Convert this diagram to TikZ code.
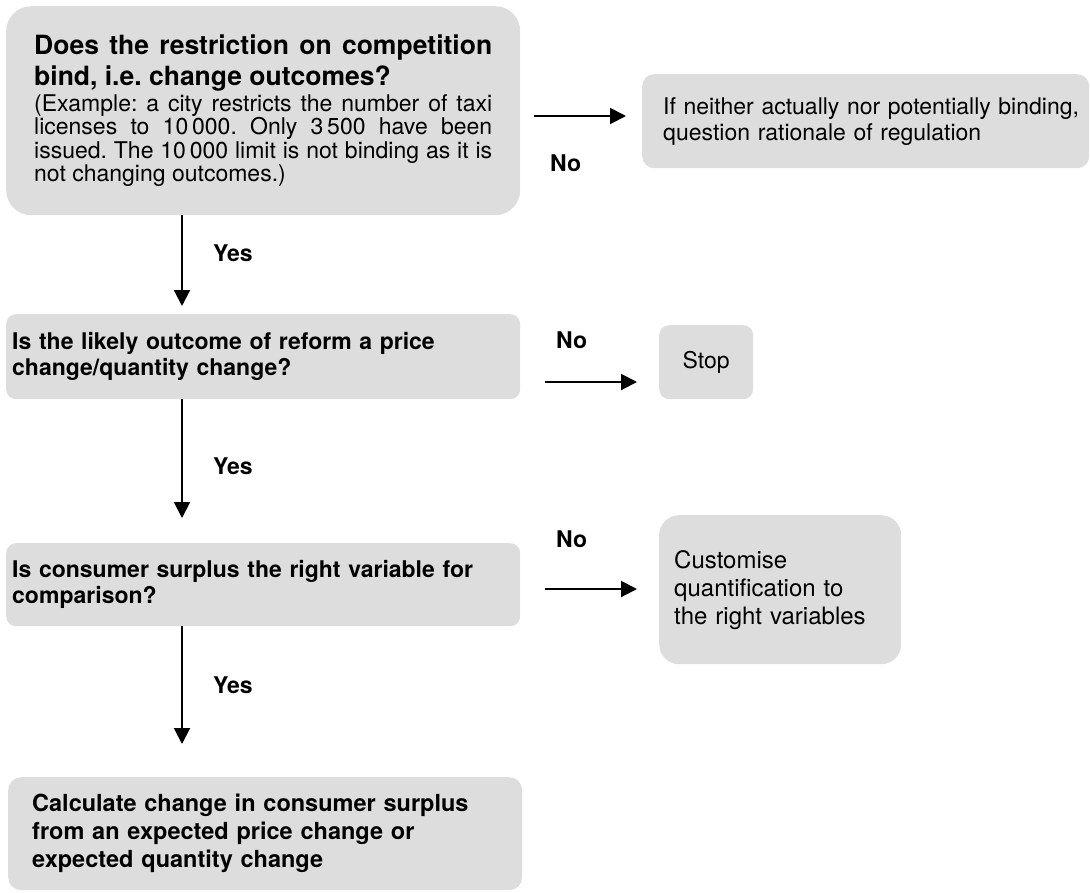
\documentclass[tikz,border=0pt]{standalone}
\usepackage{fontspec}
\setmainfont{TeX Gyre Heros}
\usetikzlibrary{arrows.meta}
\definecolor{boxgray}{RGB}{221,221,221}
\begin{document}
\frenchspacing
\begin{tikzpicture}[x=1pt,y=-1pt,
  box/.style={fill=boxgray, draw=none, inner xsep=0pt, inner ysep=0pt, anchor=north west, align=left},
  arr/.style={line width=2pt, -{Triangle[length=16pt,width=16pt]}},
  lab/.style={font=\fontsize{23}{26}\selectfont\bfseries, anchor=west, inner sep=0pt}]
\useasboundingbox (0,0) rectangle (1090,892);

% boxes
\node[box, rounded corners=25pt, text width=514pt, minimum height=209pt, align=justify] (b1) at (6,6)
  {\leftskip=28pt\rightskip=28pt
   {\fontsize{26.5}{31}\selectfont\bfseries Does the restriction on competition\linebreak bind, i.e. change outcomes?\par}
   \vspace{2pt}
   {\fontsize{23}{23.5}\selectfont (Example: a city restricts the number of taxi\linebreak licenses to 10\,000. Only 3\,500 have been\linebreak issued. The 10\,000 limit is not binding as it is\linebreak not changing outcomes.)\par}
   \vspace{6pt}};

\node[box, rounded corners=12pt, text width=447pt, minimum height=94pt, font=\fontsize{23}{26}\selectfont] (b2) at (642,74)
  {\leftskip=21pt If neither actually nor potentially binding,\\ question rationale of regulation\par};

\node[box, rounded corners=10pt, text width=514pt, minimum height=85pt, font=\fontsize{23}{26}\selectfont\bfseries] (b3) at (6,314)
  {\leftskip=6pt Is the likely outcome of reform a price\\ change/quantity change?\par};

\node[box, rounded corners=10pt, text width=94pt, minimum height=74pt, align=center, font=\fontsize{23}{26}\selectfont] (stop) at (659,325)
  {Stop};

\node[box, rounded corners=10pt, text width=514pt, minimum height=83pt, font=\fontsize{23}{26}\selectfont\bfseries] (b4) at (6,543)
  {\leftskip=6pt Is consumer surplus the right variable for\\ comparison?\par};

\node[box, rounded corners=20pt, text width=242pt, minimum height=149pt, font=\fontsize{24}{28}\selectfont] (b6) at (659,515)
  {\leftskip=15pt Customise\\ quantification to\\ the right variables\par};

\node[box, rounded corners=13pt, text width=514pt, minimum height=113pt, font=\fontsize{23.5}{28}\selectfont\bfseries] (b5) at (8,777)
  {\leftskip=24pt Calculate change in consumer surplus\\ from an expected price change or\\ expected quantity change\par};

% helper coordinates
\coordinate (yA) at (0,116);
\coordinate (yB) at (0,382);
\coordinate (yC) at (0,589);
\coordinate (xV) at (182,0);

% horizontal "No" arrows
\draw[arr, shorten <=14pt, shorten >=16pt] (b1.east|-yA) -- (b2.west|-yA);
\draw[arr, shorten <=25pt, shorten >=22pt] (b3.east|-yB) -- (stop.west|-yB);
\draw[arr, shorten <=25pt, shorten >=22pt] (b4.east|-yC) -- (b6.west|-yC);

% vertical "Yes" arrows
\draw[arr, shorten >=8pt] (b1.south-|xV) -- (b3.north-|xV);
\draw[arr, shorten >=25pt] (b3.south-|xV) -- (b4.north-|xV);
\draw[arr, shorten >=33pt] (b4.south-|xV) -- (b5.north-|xV);

% labels
\node[lab] (no1) at (550,163) {No};
\node[lab] (no2) at (556,340) {No};
\node[lab] (no3) at (556,539) {No};
\node[lab] (yes1) at (213,253) {Yes};
\node[lab] (yes2) at (213,466) {Yes};
\node[lab] (yes3) at (213,685) {Yes};
\end{tikzpicture}
\end{document}
